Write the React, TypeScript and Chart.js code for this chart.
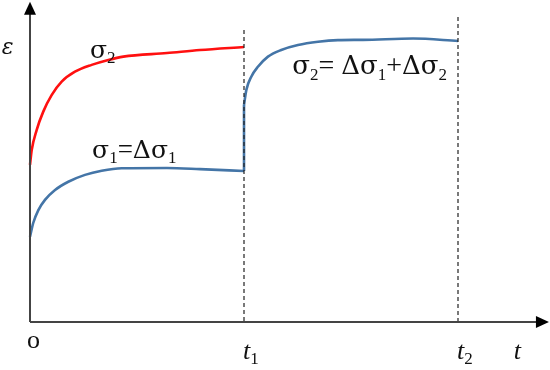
import React, { useEffect, useRef } from "react";
import { Chart, registerables } from "chart.js";

Chart.register(...registerables);

// time axis: 0 = origin, 1 = t1, 2 = t2 ; strain in relative units
const redT = [0, 0.008, 0.031, 0.062, 0.101, 0.148, 0.21, 0.288, 0.366, 0.436, 0.64, 0.794, 1.0];
const redE = [0.571, 0.625, 0.698, 0.765, 0.825, 0.874, 0.91, 0.935, 0.953, 0.965, 0.978, 0.989, 1.0];

const lowT = [0, 0.015, 0.039, 0.07, 0.117, 0.179, 0.257, 0.335, 0.429, 0.64, 0.794, 1.0];
const lowE = [0.31, 0.36, 0.407, 0.444, 0.48, 0.51, 0.535, 0.55, 0.559, 0.56, 0.556, 0.549];

const jumpT = [1.0, 1.0];
const jumpE = [0.549, 0.789];

const upT = [1.0, 1.011, 1.034, 1.065, 1.112, 1.174, 1.252, 1.346, 1.439, 1.556, 1.79, 2.0];
const upE = [0.789, 0.844, 0.892, 0.928, 0.965, 0.989, 1.007, 1.019, 1.025, 1.026, 1.031, 1.022];

const markT = [1, 2];
const markLabels = ["t1", "t2"];

const pts = (xs: number[], ys: number[]) => xs.map((x, i) => ({ x, y: ys[i] }));

type Part = { t: string; size: number; italic?: boolean; sub?: boolean; greek?: boolean };

function drawRich(ctx: CanvasRenderingContext2D, x: number, y: number, parts: Part[]) {
  let cx = x;
  for (const p of parts) {
    const fam = p.greek
      ? `"DejaVu Serif", "Liberation Serif", serif`
      : `"Liberation Serif", "Times New Roman", serif`;
    ctx.font = `${p.italic ? "italic " : ""}${p.size}px ${fam}`;
    const dy = p.sub ? p.size * 0.3 : 0;
    ctx.fillText(p.t, cx, y + dy);
    cx += ctx.measureText(p.t).width;
  }
}

const diagramPlugin = {
  id: "diagram",
  afterDraw(chart: any) {
    const ctx: CanvasRenderingContext2D = chart.ctx;
    const xs = chart.scales.x;
    const ys = chart.scales.y;
    const x0 = xs.getPixelForValue(0);
    const y0 = ys.getPixelForValue(0);
    const xEnd = xs.getPixelForValue(2.425);
    const yTop = ys.getPixelForValue(1.165);
    ctx.save();
    // dashed lines
    ctx.strokeStyle = "#222";
    ctx.lineWidth = 1.2;
    ctx.setLineDash([4, 3]);
    const dashTop = [1.062, 1.109];
    markT.forEach((t, i) => {
      const px = xs.getPixelForValue(t);
      ctx.beginPath();
      ctx.moveTo(px, ys.getPixelForValue(dashTop[i]));
      ctx.lineTo(px, y0);
      ctx.stroke();
    });
    ctx.setLineDash([]);
    // axes
    ctx.strokeStyle = "#444";
    ctx.lineWidth = 2;
    ctx.beginPath();
    ctx.moveTo(x0, y0);
    ctx.lineTo(x0, yTop + 10);
    ctx.moveTo(x0, y0);
    ctx.lineTo(xEnd - 10, y0);
    ctx.stroke();
    ctx.fillStyle = "#000";
    ctx.beginPath();
    ctx.moveTo(x0, yTop);
    ctx.lineTo(x0 - 6, yTop + 13);
    ctx.lineTo(x0 + 6, yTop + 13);
    ctx.closePath();
    ctx.fill();
    ctx.beginPath();
    ctx.moveTo(xEnd, y0);
    ctx.lineTo(xEnd - 13, y0 - 6);
    ctx.lineTo(xEnd - 13, y0 + 6);
    ctx.closePath();
    ctx.fill();
    // labels
    ctx.fillStyle = "#111";
    ctx.textBaseline = "alphabetic";
    const P = (t: number) => xs.getPixelForValue(t);
    const Q = (e: number) => ys.getPixelForValue(e);
    drawRich(ctx, P(-0.132), Q(0.975), [{ t: "ε", size: 22, italic: true, greek: true }]);
    drawRich(ctx, P(0.28), Q(0.96), [
      { t: "σ", size: 25, greek: true },
      { t: "2", size: 17, sub: true },
    ]);
    drawRich(ctx, P(0.29), Q(0.597), [
      { t: "σ", size: 25, greek: true },
      { t: "1", size: 17, sub: true },
      { t: "=", size: 27 },
      { t: "Δσ", size: 25, greek: true },
      { t: "1", size: 17, sub: true },
    ]);
    drawRich(ctx, P(1.225), Q(0.9), [
      { t: "σ", size: 26, greek: true },
      { t: "2", size: 17, sub: true },
      { t: "= ", size: 28 },
      { t: "Δσ", size: 26, greek: true },
      { t: "1", size: 17, sub: true },
      { t: "+", size: 28 },
      { t: "Δσ", size: 26, greek: true },
      { t: "2", size: 17, sub: true },
    ]);
    drawRich(ctx, P(-0.014), Q(-0.095), [{ t: "o", size: 26 }]);
    markT.forEach((t, i) => {
      drawRich(ctx, P(t) - 1, Q(-0.135), [
        { t: markLabels[i][0], size: 26, italic: true },
        { t: markLabels[i][1], size: 17, sub: true },
      ]);
    });
    drawRich(ctx, P(2.26), Q(-0.135), [{ t: "t", size: 26, italic: true }]);
    ctx.restore();
  },
};

export default function App() {
  const ref = useRef<HTMLCanvasElement>(null);
  useEffect(() => {
    document.body.style.margin = "0";
    const blue = "#4475A7";
    const common = {
      showLine: true,
      pointRadius: 0,
      borderWidth: 2.6,
      fill: false,
      cubicInterpolationMode: "monotone" as const,
    };
    const chart = new Chart(ref.current!, {
      type: "scatter",
      data: {
        datasets: [
          { ...common, data: pts(redT, redE), borderColor: "#FF1010" },
          { ...common, data: pts(lowT, lowE), borderColor: blue },
          { ...common, data: pts(jumpT, jumpE), borderColor: blue, cubicInterpolationMode: "default", tension: 0 },
          { ...common, data: pts(upT, upE), borderColor: blue },
        ],
      },
      options: {
        responsive: false,
        animation: false,
        layout: { padding: 0 },
        plugins: { legend: { display: false }, tooltip: { enabled: false } },
        scales: {
          x: { type: "linear", min: -0.1402, max: 2.4299, display: false },
          y: { type: "linear", min: -0.17455, max: 1.17091, display: false },
        },
      },
      plugins: [diagramPlugin],
    });
    return () => chart.destroy();
  }, []);
  return <canvas ref={ref} width={550} height={370} style={{ display: "block" }} />;
}
